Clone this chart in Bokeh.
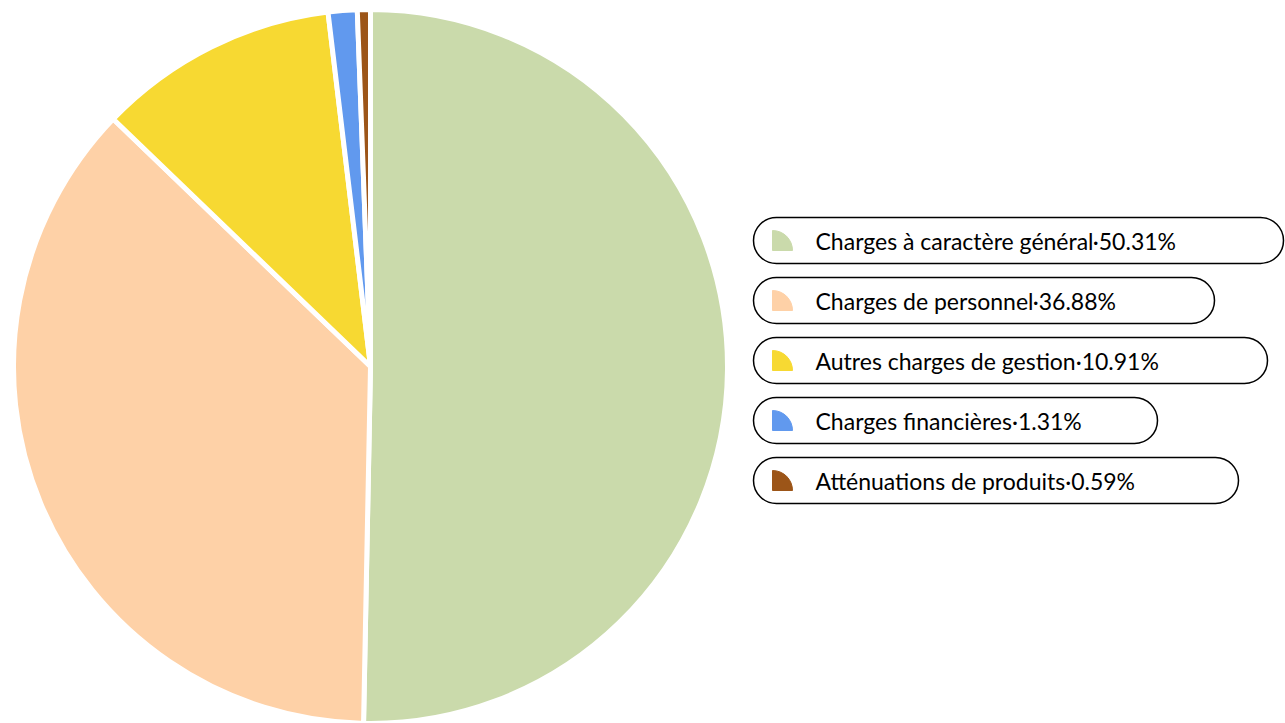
import math
from bokeh.plotting import figure
from bokeh.models import Range1d, BoxAnnotation, ColumnDataSource
from bokeh.core.properties import value
from bokeh.embed import file_html
from bokeh.resources import INLINE

categories = ["Charges à caractère général", "Charges de personnel",
              "Autres charges de gestion", "Charges financières",
              "Atténuations de produits"]
percents = [50.31, 36.88, 10.91, 1.31, 0.59]
colors = ["#cadaab", "#fed1a7", "#f7d932", "#6199ee", "#9c5518"]

W, H = 1285, 723
p = figure(width=W, height=H, output_backend="svg", toolbar_location=None,
           x_range=Range1d(0, W), y_range=Range1d(0, H), min_border=0)
p.axis.visible = False
p.grid.visible = False
p.outline_line_color = None

cx, cy, r = 370, H - 366, 357
total = sum(percents)
starts, ends = [], []
cum = 0.0
for v in percents:
    a0 = math.pi / 2 - 2 * math.pi * cum / total
    cum += v
    a1 = math.pi / 2 - 2 * math.pi * cum / total
    starts.append(a0)
    ends.append(a1)
src = ColumnDataSource(dict(start=starts, end=ends, color=colors))
p.wedge(x=cx, y=cy, radius=r, start_angle="start", end_angle="end",
        direction="clock", fill_color="color", line_color="white",
        line_width=5, line_join="round", source=src)

# legend
box_rights = [1283, 1214, 1267, 1157, 1238]
for i, (cat, pct, col) in enumerate(zip(categories, percents, colors)):
    yc = H - (240 + 60 * i)
    p.add_layout(BoxAnnotation(left=753, right=box_rights[i], bottom=yc - 23, top=yc + 23,
                               fill_color="white", fill_alpha=1, line_color="black",
                               line_alpha=1, line_width=1.5, border_radius=23,
                               level="underlay"))
    p.wedge(x=[772], y=[yc - 10], radius=20, start_angle=0, end_angle=math.pi / 2,
            fill_color=col, line_color=col, line_join="round")
    p.text(x=[815], y=[yc], text=[f"{cat}·{pct:.2f}%"], text_baseline="middle",
           text_align="left", text_font=value("Lato"), text_font_size="23px",
           text_color="black")

open("out.html", "w").write(file_html(p, INLINE))
